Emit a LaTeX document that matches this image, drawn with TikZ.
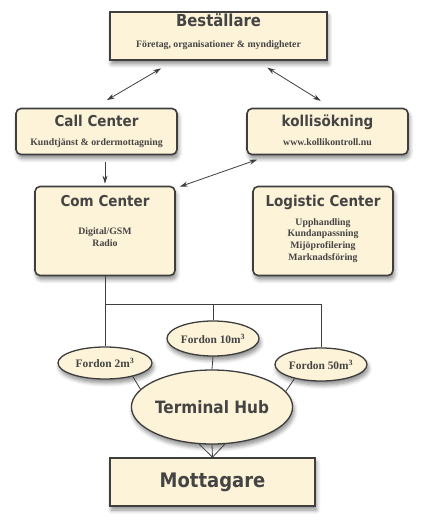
\documentclass[tikz,border=0pt]{standalone}
\usepackage{fontspec}
\setmainfont{Liberation Serif}
\newfontfamily\hubfont[FakeStretch=0.9]{DejaVu Sans}
\usepackage{xcolor}
\usepackage{tikz}
\usetikzlibrary{shapes.geometric, arrows.meta, positioning, calc, shadows.blur}

\definecolor{cream}{RGB}{253,243,216}
\definecolor{edge}{RGB}{62,62,62}
\definecolor{ink}{RGB}{68,68,68}

\begin{document}
\begin{tikzpicture}[
    x=1pt, y=1pt,
    shade/.style={blur shadow={shadow xshift=1.5pt, shadow yshift=-4pt, shadow blur radius=4pt, shadow blur steps=6, shadow opacity=45}},
    bnode/.style={rectangle, draw=edge, fill=cream, line width=1.6pt, shade, inner sep=0pt},
    rnode/.style={bnode, rounded corners=5pt},
    enode/.style={ellipse, draw=edge, fill=cream, line width=1.3pt, shade, inner sep=0pt, font=\bfseries\fontsize{11.4}{13}\selectfont, text=ink},
    ttl/.style={font=\hubfont\bfseries\fontsize{15}{18}\selectfont, text=ink, inner sep=0pt},
    sub/.style={font=\bfseries\fontsize{9.8}{11.7}\selectfont, text=ink, align=center, inner sep=0pt},
    arr/.style={{Stealth[length=8pt,width=5pt]}-{Stealth[length=8pt,width=5pt]}, draw=edge, line width=0.8pt},
    arr1/.style={-{Stealth[length=8pt,width=5pt]}, draw=edge, line width=0.8pt},
    wire/.style={draw=edge, line width=0.8pt}
]
\useasboundingbox (0,0) rectangle (428,-526);

\node[bnode, minimum width=217pt, minimum height=48pt] (best) at (218.5,-36) {};
\node[ttl, font=\hubfont\bfseries\fontsize{16.5}{19}\selectfont, anchor=base] (bestt) at ([yshift=-15pt]best.north) {Beställare};
\node[sub, anchor=base] (bests) at ([yshift=-36pt]best.north) {Företag, organisationer \& myndigheter};

\node[rnode, minimum width=161pt, minimum height=46pt] (call) at (96.5,-131.5) {};
\node[ttl, anchor=base] (callt) at ([yshift=-18.5pt]call.north) {Call Center};
\node[sub, anchor=base] (calls) at ([yshift=-37.5pt]call.north) {Kundtjänst \& ordermottagning};

\node[rnode, minimum width=161pt, minimum height=46pt] (kolli) at (327.5,-131.5) {};
\node[ttl, anchor=base] (kollit) at ([yshift=-18.5pt]kolli.north) {kollisökning};
\node[sub, anchor=base] (kollis) at ([yshift=-37.5pt]kolli.north) {www.kollikontroll.nu};

\node[rnode, minimum width=140pt, minimum height=89pt] (com) at (105,-231) {};
\node[ttl, anchor=base] (comt) at ([yshift=-20.5pt]com.north) {Com Center};
\node[sub, anchor=base] (coms) at ([yshift=-60.5pt]com.north) {Digital/GSM\\Radio};

\node[rnode, minimum width=140pt, minimum height=89pt] (logi) at (323,-231) {};
\node[ttl, anchor=base] (logit) at ([yshift=-20.5pt]logi.north) {Logistic Center};
\node[sub, anchor=base] (logis) at ([yshift=-74.5pt]logi.north) {Upphandling\\Kundanpassning\\Mijöprofilering\\Marknadsföring};

\node[enode, minimum width=92pt, minimum height=35pt] (f10) at (213,-338.5) {Fordon 10m\textsuperscript{3}};
\node[enode, minimum width=94pt, minimum height=32pt] (f2) at (105,-363) {Fordon 2m\textsuperscript{3}};
\node[enode, minimum width=92pt, minimum height=33pt] (f50) at (321,-364.5) {Fordon 50m\textsuperscript{3}};
\node[enode, minimum width=136pt, minimum height=74pt, font=\hubfont\bfseries\fontsize{17}{20}\selectfont] (hub) at (212,-407) {Terminal Hub};

\node[bnode, minimum width=205pt, minimum height=48pt, font=\hubfont\bfseries\fontsize{20}{24}\selectfont, text=ink] (mott) at (212.5,-482) {Mottagare};

\draw[arr, shorten <=15pt, shorten >=15pt] ([xshift=-44.5pt]best.south) -- ([xshift=-2.5pt]call.north);
\draw[arr, shorten <=13pt, shorten >=13pt] ([xshift=37.7pt]best.south) -- ([xshift=4.3pt]kolli.north);
\draw[arr, shorten <=13pt] ([xshift=-58pt]kolli.south) -- ([xshift=4pt,yshift=-1pt]com.north east);
\draw[arr1, shorten <=7pt, shorten >=2pt] (call.south -| com.north) -- (com.north);

\coordinate (bus) at ([yshift=-28pt]com.south);
\draw[wire] (com.south) -- (f2.north);
\draw[wire] (bus) -| (f10.north);
\draw[wire] (bus) -| (f50.north);
\draw[wire] (f10.south) -- (hub.north);
\draw[wire] (f2.-26) -- (hub.166);
\draw[wire] (f50.208) -- (hub.12);
\draw[wire] (hub.-109) -- (mott.north);
\draw[wire] (hub.south) -- (mott.north);
\draw[wire] (hub.-71) -- (mott.north);

\end{tikzpicture}
\end{document}
